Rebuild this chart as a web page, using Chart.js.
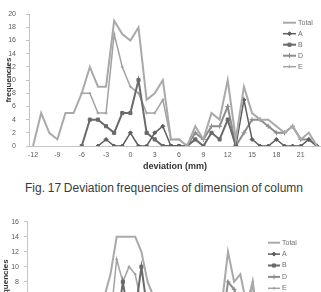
<!DOCTYPE html>
<html>
<head>
<meta charset="utf-8">
<script src="https://cdn.jsdelivr.net/npm/chart.js@4"></script>
<style>
  html, body { margin: 0; padding: 0; background: #fff; }
  #page { position: relative; width: 321px; height: 292px; overflow: hidden; background: #fff; }
  #c1 { position: absolute; left: 0; top: 0; }
  #c2 { position: absolute; left: 0; top: 200px; }
  #caption {
    position: absolute; left: 25px; top: 180px; white-space: nowrap;
    font: 12px "Liberation Sans", Arial, sans-serif; color: #3a3a3a; line-height: 16px;
  }
</style>
</head>
<body>
<div id="page">
  <canvas id="c1" width="326" height="172"></canvas>
  <div id="caption">Fig. 17 Deviation frequencies of dimension of column</div>
  <canvas id="c2" width="321" height="168"></canvas>
</div>
<script>
// ---------- data: Fig. 17 (top chart) ----------
const categories1 = [-12, -11, -10, -9, -8, -7, -6, -5, -4, -3, -2, -1, 0, 1, 2, 3, 4, 5,
  6, 7, 8, 9, 10, 11, 12, 13, 14, 15, 16, 17, 18, 19, 20, 21, 22, 23];
const total1 = [0, 5, 2, 1, 5, 5, 8, 12, 9, 9, 19, 17, 16, 18, 7, 8, 10, 1,
  1, 0, 3, 1, 5, 4, 10, 1, 9, 5, 4, 4, 3, 2, 3, 1, 2, 0];
const a1 = [null, null, null, null, null, null, null, null, 0, 1, 0, 0, 2, 0, 0, 2, 3, 0,
  0, null, null, null, null, null, null, 0, 7, 1, 0, 0, 1, 0, 0, 0, 1, 0];
const b1 = [null, null, null, null, null, null, 0, 4, 4, 3, 2, 5, 5, 10, 2, 1, 0, 0,
  0, 0, 1, 0, 2, 1, 4, 0, null, null, null, null, null, null, null, null, null, null];
const d1 = [null, null, null, null, null, null, null, null, null, null, null, null, null, null, null, null, null, null,
  null, 0, 2, 1, 3, 3, 6, 0, 2, 4, 4, 3, 2, 2, 3, 1, 1, 0];
const e1 = [null, null, null, null, null, null, 8, 8, 5, 5, 17, 12, 9, 8, 5, 5, 7, 1,
  1, 0, null, null, null, null, null, null, null, null, null, null, null, null, null, null, null, null];

// ---------- data: next figure (only its top is visible) ----------
const categories2 = [-18, -17, -16, -15, -14, -13, -12, -11, -10, -9, -8, -7, -6, -5, -4, -3, -2, -1, 0,
  1, 2, 3, 4, 5, 6, 7, 8, 9, 10, 11, 12, 13, 14, 15, 16, 17, 18, 19];
const total2 = [0, 0, 1, 0, 1, 2, 1, 2, 3, 4, 3, 4, 6, 9, 14, 14, 14, 14, 12,
  8, 6, 5, 4, 3, 2, 3, 2, 3, 4, 3, 4, 5, 12, 8, 9, 5, 8, 2];
const a2 = [0, 0, 0, 0, 0, 1, 0, 0, 1, 1, 0, 1, 1, 2, 1, 2, 1, 0, 1,
  1, 0, 1, 1, 0, 0, 1, 0, 0, 1, 0, 1, 1, 2, 0, 1, 1, 0, 0];
const b2 = [0, 0, 0, 0, 1, 0, 0, 1, 1, 1, 1, 1, 2, 3, 2, 8, 3, 4, 10,
  4, 2, 1, 1, 1, 0, 1, 1, 1, 1, 1, 1, 2, 2, 1, 3, 1, 0, 1];
const d2 = [0, 0, 0, 0, 0, 0, 1, 0, 0, 1, 1, 1, 1, 1, 2, 1, 1, 2, 1,
  2, 2, 2, 1, 1, 1, 1, 1, 1, 2, 2, 2, 2, 8, 7, 5, 3, 0, 1];
const e2 = [0, 0, 1, 0, 0, 1, 0, 1, 1, 1, 1, 1, 2, 3, 11, 8, 10, 9, 5,
  3, 2, 1, 1, 0, 1, 1, 0, 1, 1, 0, 1, 1, 2, 0, 1, 0, 8, 1];

const seriesNames = ['Total', 'A', 'B', 'D', 'E'];

// line looks, one per series
const looks = [
  { color: '#a9a9a9', width: 2, style: 'circle', radius: 0 },
  { color: '#5e5e5e', width: 1.5, style: 'rectRot', radius: 2 },
  { color: '#6a6a6a', width: 2, style: 'rect', radius: 2.2 },
  { color: '#8d8d8d', width: 2, style: 'cross', radius: 2.5 },
  { color: '#a2a2a2', width: 1.5, style: 'cross', radius: 1.5 }
];

function makeDatasets(lists) {
  return lists.map((vals, i) => ({
    label: seriesNames[i],
    data: vals,
    borderColor: looks[i].color,
    backgroundColor: looks[i].color,
    borderWidth: looks[i].width,
    pointStyle: looks[i].style,
    pointRadius: looks[i].radius,
    pointBorderWidth: 1,
    pointBorderColor: looks[i].color,
    spanGaps: false,
    tension: 0
  }));
}

// ---------- legend drawn inside the canvas ----------
const sideLegend = {
  id: 'sideLegend',
  afterDraw(chart, args, opts) {
    const ctx = chart.ctx;
    ctx.save();
    ctx.font = '7px "Liberation Sans", Arial, sans-serif';
    ctx.textBaseline = 'middle';
    chart.data.datasets.forEach((ds, i) => {
      const y = opts.y0 + i * opts.step;
      ctx.strokeStyle = ds.borderColor;
      ctx.fillStyle = ds.borderColor;
      ctx.lineWidth = ds.borderWidth;
      ctx.beginPath();
      ctx.moveTo(opts.x1, y);
      ctx.lineTo(opts.x2, y);
      ctx.stroke();
      if (ds.pointRadius > 0) {
        ctx.lineWidth = 1;
        Chart.helpers.drawPoint(ctx, {
          pointStyle: ds.pointStyle, radius: ds.pointRadius, rotation: 0, borderWidth: 1
        }, (opts.x1 + opts.x2) / 2, y);
      }
      ctx.fillStyle = '#707070';
      ctx.fillText(ds.label, opts.x2 + 2, y);
    });
    ctx.restore();
  }
};

const tickFont = { family: '"Liberation Sans", Arial, sans-serif', size: 7 };
const titleFont = { family: '"Liberation Sans", Arial, sans-serif', size: 8, weight: 'bold' };

function makeChart(id, cats, lists, cfg) {
  return new Chart(document.getElementById(id), {
    type: 'line',
    data: { labels: cats, datasets: makeDatasets(lists) },
    plugins: [sideLegend],
    options: {
      responsive: false,
      animation: false,
      devicePixelRatio: 1,
      layout: { padding: cfg.padding },
      plugins: {
        legend: { display: false },
        tooltip: { enabled: false },
        sideLegend: cfg.legend
      },
      scales: {
        x: {
          type: 'category',
          offset: true,
          afterFit: s => { s.height = 26; },
          grid: { display: true, drawOnChartArea: false, drawTicks: false },
          border: { color: '#c4c4c4', width: 1 },
          ticks: {
            autoSkip: false, maxRotation: 0, padding: 5,
            color: '#5a5a5a', font: tickFont,
            callback: (v, i) => (cats[i] % 3 === 0 ? String(cats[i]) : '')
          },
          title: {
            display: true, text: 'deviation (mm)', color: '#333',
            font: { family: '"Liberation Sans", Arial, sans-serif', size: 9, weight: 'bold' },
            padding: { top: 0, bottom: 0 }
          }
        },
        y: {
          min: 0, max: cfg.ymax,
          afterFit: s => { s.width = cfg.yWidth; },
          grid: { drawOnChartArea: false, drawTicks: true, tickLength: 3, color: '#c4c4c4' },
          border: { color: '#c4c4c4', width: 1 },
          ticks: { stepSize: 2, padding: cfg.tickPad, color: '#5a5a5a', font: tickFont },
          title: {
            display: true, text: 'frequencies', color: '#333', font: titleFont,
            padding: { top: cfg.titlePad, bottom: 0 }
          }
        }
      }
    }
  });
}

makeChart('c1', categories1, [total1, a1, b1, d1, e1], {
  padding: { top: 1, right: 4, left: 0, bottom: 0 },
  ymax: 20, yWidth: 29, tickPad: 10, titlePad: 4,
  legend: { x1: 283, x2: 296, y0: 22.7, step: 11 }
});

makeChart('c2', categories2, [total2, a2, b2, d2, e2], {
  padding: { top: 21.7, right: 59, left: 0, bottom: 0 },
  ymax: 16, yWidth: 27, tickPad: 5, titlePad: 1,
  legend: { x1: 268, x2: 280, y0: 42.7, step: 11.4 }
});

// stretch the caption over the same width as in the figure
(function fitCaption() {
  const cap = document.getElementById('caption');
  const target = 278;
  const w = cap.getBoundingClientRect().width;
  const gaps = cap.textContent.split(' ').length - 1;
  cap.style.wordSpacing = ((target - w) / gaps).toFixed(2) + 'px';
})();
</script>
</body>
</html>
